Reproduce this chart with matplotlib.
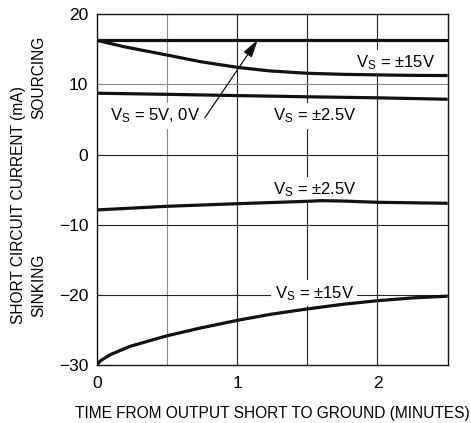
import matplotlib
matplotlib.use("Agg")
import matplotlib.pyplot as plt

# ======== 数据 ========
t_flat = [0.0, 2.5]
i_5v = [16.4, 16.4]

t_src15 = [0.0, 0.19, 0.5, 0.736, 1.0, 1.234, 1.5, 1.75, 2.0, 2.25, 2.5]
i_src15 = [16.3, 15.4, 14.2, 13.26, 12.45, 11.93, 11.6, 11.45, 11.37, 11.3, 11.27]

t_src25 = [0.0, 0.5, 1.0, 1.5, 2.0, 2.5]
i_src25 = [8.76, 8.6, 8.42, 8.25, 8.1, 7.9]

t_snk25 = [0.0, 0.5, 1.0, 1.5, 1.6, 1.757, 2.0, 2.5]
i_snk25 = [-7.87, -7.35, -6.98, -6.64, -6.55, -6.6, -6.78, -6.92]

t_snk15 = [0.0, 0.024, 0.047, 0.095, 0.237, 0.5, 0.736, 1.0, 1.234, 1.5,
           1.757, 2.0, 2.25, 2.5]
i_snk15 = [-30.0, -29.4, -29.1, -28.5, -27.3, -25.8, -24.7, -23.6, -22.75,
           -21.97, -21.3, -20.8, -20.4, -20.15]

x_ticks = [0, 1, 2]
y_ticks = [-30, -20, -10, 0, 10, 20]
y_ticklabels = ["\u221230", "\u221220", "\u221210", "0", "10", "20"]

plt.rcParams["font.family"] = ["Liberation Sans", "DejaVu Sans"]
plt.rcParams["font.size"] = 12

fig = plt.figure(figsize=(4.71, 4.23), dpi=100)
ax = fig.add_axes([0.2053, 0.1364, 0.7452, 0.8298])

# 网格
for x in [0.5, 1.0, 1.5, 2.0]:
    ax.axvline(x, color="#8a8a8a" if x == 0.5 else "#222222", lw=0.8, zorder=1)
for y in [-20, -10, 0, 10]:
    ax.axhline(y, color="#8a8a8a" if y == 10 else "#222222", lw=0.8, zorder=1)

# 曲线
lw = 2.3
for t, i in [(t_flat, i_5v), (t_src15, i_src15), (t_src25, i_src25),
             (t_snk25, i_snk25), (t_snk15, i_snk15)]:
    ax.plot(t, i, color="#111111", lw=lw, solid_capstyle="butt",
            solid_joinstyle="round", zorder=3)

ax.set_xlim(0, 2.5)
ax.set_ylim(-30, 20)
ax.set_xticks(x_ticks)
ax.set_yticks(y_ticks)
ax.set_yticklabels(y_ticklabels)
ax.tick_params(axis="y", length=0, labelsize=12.5, pad=6)
ax.tick_params(axis="x", length=0, labelsize=12.5, pad=8)
for s in ax.spines.values():
    s.set_linewidth(1.0)
    s.set_color("#111111")

# 标注（白底遮住网格，但在曲线之下）
box = dict(facecolor="white", edgecolor="none", pad=2.5)
ax.text(2.128, 12.4, r"V$\mathregular{_S}$ = ±15V", ha="center", va="baseline", bbox=box, zorder=2)
ax.text(0.736, 4.87, r"V$\mathregular{_S}$ = 5V, 0V", ha="right", va="baseline", bbox=box, zorder=2)
ax.text(1.555, 4.87, r"V$\mathregular{_S}$ = ±2.5V", ha="center", va="baseline", bbox=box, zorder=2)
ax.text(1.555, -5.7, r"V$\mathregular{_S}$ = ±2.5V", ha="center", va="baseline", bbox=box, zorder=2)
ax.text(1.551, -20.4, r"V$\mathregular{_S}$ = ±15V", ha="center", va="baseline", bbox=box, zorder=2)

ax.annotate("", xy=(1.147, 16.35), xytext=(0.77, 5.25),
            arrowprops=dict(arrowstyle="-|>,head_length=0.9,head_width=0.25",
                            color="#111111", lw=0.9,
                            mutation_scale=12, shrinkA=0, shrinkB=0), zorder=5)

fig.text(0.039, 0.515, "SHORT CIRCUIT CURRENT (mA)", rotation=90, ha="center",
         va="center", fontsize=11.2)
fig.text(0.083, 0.8168, "SOURCING", rotation=90, ha="center", va="center", fontsize=11.2)
fig.text(0.083, 0.326, "SINKING", rotation=90, ha="center", va="center", fontsize=11.2)
fig.text(0.997, 0.012, "TIME FROM OUTPUT SHORT TO GROUND (MINUTES)", ha="right",
         va="baseline", fontsize=11.2)

fig.savefig("out.png", dpi=100)
